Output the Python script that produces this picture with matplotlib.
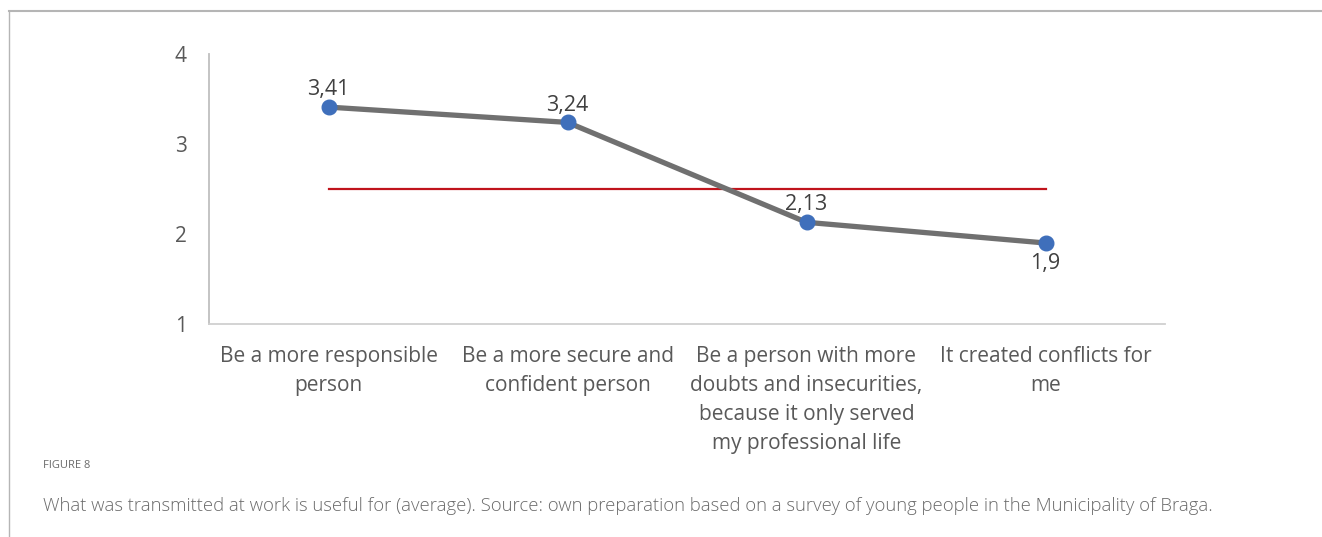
import matplotlib
matplotlib.use("Agg")
import matplotlib.pyplot as plt
from matplotlib.lines import Line2D

categories = [
    "Be a more responsible\nperson",
    "Be a more secure and\nconfident person",
    "Be a person with more\ndoubts and insecurities,\nbecause it only served\nmy professional life",
    "It created conflicts for\nme",
]
averages = [3.41, 3.24, 2.13, 1.9]
value_labels = ["3,41", "3,24", "2,13", "1,9"]
label_above = [True, True, True, False]
reference_level = 2.5
y_ticks = [1, 2, 3, 4]

plt.rcParams["font.family"] = ["Open Sans", "DejaVu Sans"]
text_color = "#595959"

fig = plt.figure(figsize=(13.22, 5.37), dpi=100)
ax = fig.add_axes([209 / 1322, 1 - 324 / 537, 956 / 1322, 270 / 537])

x = list(range(len(categories)))
ax.plot([x[0], x[-1]], [reference_level, reference_level], color="#c0141c", lw=1.6, zorder=2)
ax.plot(x, averages, color="#707070", lw=3.8, solid_capstyle="round", zorder=3)
ax.plot(x, averages, "o", color="#3f6fbb", ms=10.5, zorder=4)

for xi, v, lab, above in zip(x, averages, value_labels, label_above):
    ax.annotate(lab, (xi, v), xytext=(0, 12.5 if above else -15), textcoords="offset points",
                ha="center", va="center", fontsize=15.5, color="#404040")

ax.set_xlim(-0.5, len(categories) - 0.5)
ax.set_ylim(1, 4)
ax.set_yticks(y_ticks)
ax.set_yticklabels([str(t) for t in y_ticks], fontsize=15, color=text_color)
ax.set_xticks(x)
ax.set_xticklabels(categories, fontsize=15, color=text_color, linespacing=1.5)
ax.tick_params(axis="y", length=0, pad=16)
ax.tick_params(axis="x", length=0, pad=16)

for side in ("top", "right"):
    ax.spines[side].set_visible(False)
ax.spines["left"].set_color("#bfbfbf")
ax.spines["bottom"].set_color("#d0d0d0")
ax.spines["left"].set_linewidth(1.3)
ax.spines["bottom"].set_linewidth(1.3)

# page frame lines
fig.add_artist(Line2D([9 / 1322, 1.0], [1 - 11 / 537, 1 - 11 / 537], color="#b5b5b5", lw=1.5,
                      transform=fig.transFigure))
fig.add_artist(Line2D([9 / 1322, 9 / 1322], [0.0, 1 - 11 / 537], color="#b5b5b5", lw=1.0,
                      transform=fig.transFigure))

fig.text(43 / 1322, 1 - 466 / 537, "FIGURE 8", fontsize=8, color="#6a6a6a", va="center", ha="left")
fig.text(43 / 1322, 1 - 506 / 537,
         "What was transmitted at work is useful for (average). Source: own preparation based on a survey of young people in the Municipality of Braga.",
         fontsize=13.3, color="#6a6a6a", va="center", ha="left", fontweight="light")

fig.savefig("out.png", dpi=100)
